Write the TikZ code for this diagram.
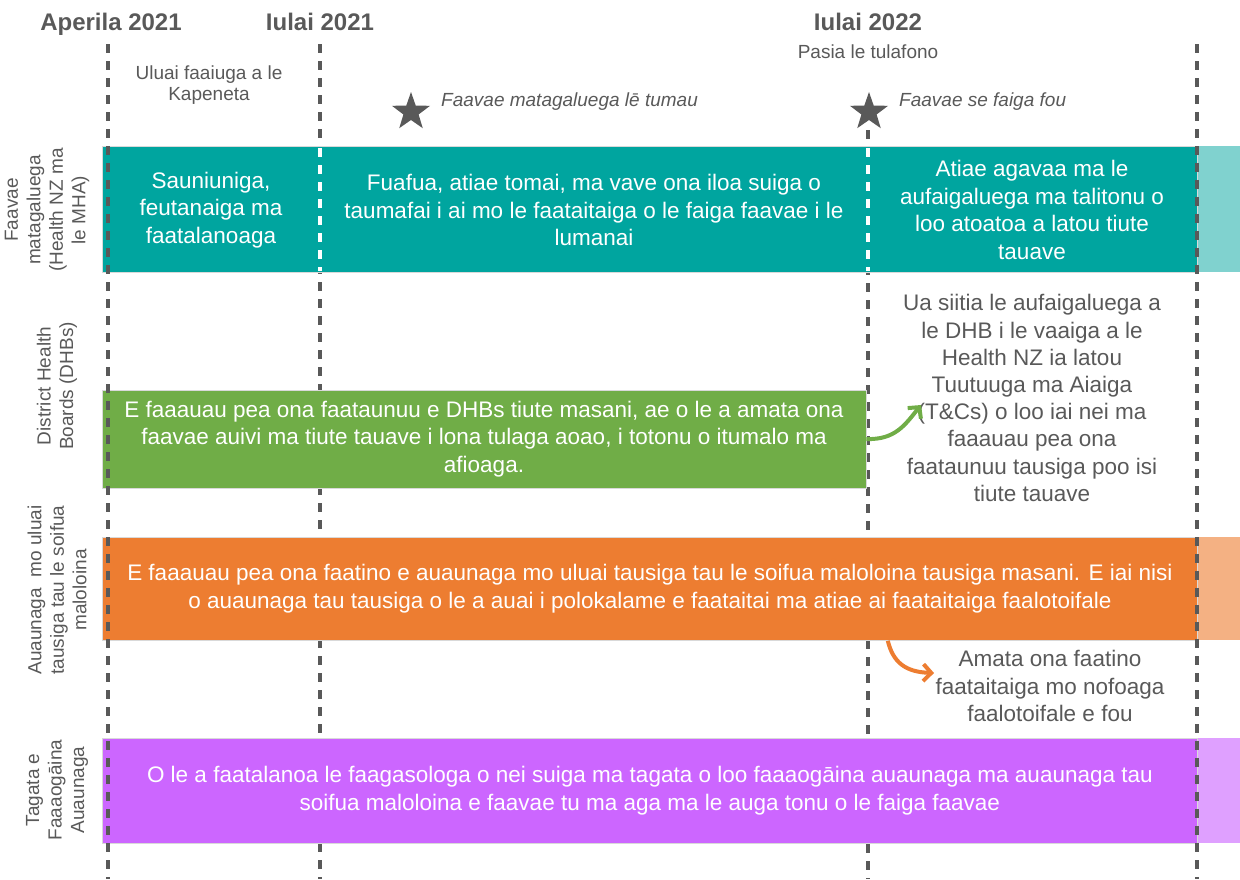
\documentclass[tikz,border=0pt]{standalone}
\usepackage{fontspec}
\setmainfont{Liberation Sans}
\usetikzlibrary{shapes.geometric,arrows.meta}
\definecolor{txtgray}{HTML}{595959}
\definecolor{tealbar}{HTML}{00A59F}
\definecolor{teallight}{HTML}{80D2CF}
\definecolor{greenbar}{HTML}{70AD47}
\definecolor{orangebar}{HTML}{ED7D31}
\definecolor{orangelight}{HTML}{F4B183}
\definecolor{purplebar}{HTML}{CC66FF}
\definecolor{purplelight}{HTML}{DFA0FF}
\begin{document}
\begin{tikzpicture}[x=1pt, y=-1pt,
    datehead/.style={text=txtgray, font=\bfseries\fontsize{24}{28}\selectfont, inner sep=0},
    remark/.style={text=txtgray, font=\fontsize{19}{21.5}\selectfont, align=center, inner sep=0},
    rowlabel/.style={text=txtgray, font=\fontsize{19}{22.5}\selectfont, align=center, rotate=90, inner sep=0},
    bartext/.style={text=white, font=\fontsize{22.5}{27.5}\selectfont, align=center, inner sep=0},
    sidetext/.style={text=txtgray, font=\fontsize{22.5}{27.2}\selectfont, align=center, inner sep=0},
    barbox/.style={draw=white!85!black, line width=0.8pt, inner sep=0, anchor=north west},
    gridline/.style={draw=txtgray, line width=3.5pt, dash pattern=on 9pt off 8pt},
    whitegrid/.style={draw=white, line width=3.5pt, dash pattern=on 9pt off 8pt},
    flow/.style={line width=4pt, -{Straight Barb[length=8pt, width=17pt]}},
    milestone/.style={star, star points=5, star point ratio=2.5, fill=txtgray, minimum size=40pt, inner sep=0}]
  \useasboundingbox (0,0) rectangle (1240,879);

  % dates across the top
  \node[datehead, anchor=base] (apr21) at (111,30) {Aperila 2021};
  \node[datehead, anchor=base] (jul21) at (320,30) {Iulai 2021};
  \node[datehead, anchor=base] (jul22) at (868,30) {Iulai 2022};

  \node[remark] (cabinet) at (209,85) {Uluai faaiuga a le\\Kapeneta};
  \node[remark] (passed) at (868,52) {Pasia le tulafono};

  \node[milestone] (star1) at (411,112) {};
  \node[milestone] (star2) at (869,112) {};
  \node[remark, anchor=west, font=\itshape\fontsize{19}{21.5}\selectfont] (interim) at (441,102) {Faavae matagaluega lē tumau};
  \node[remark, anchor=west, font=\itshape\fontsize{19}{21.5}\selectfont] (newsys) at (899,102) {Faavae se faiga fou};

  % grid lines that run behind the bars
  \draw[gridline] (320,44) -- (320,879);
  \draw[gridline] (868,130) -- (868,879);

  % bars
  \node[barbox, fill=tealbar, minimum width=1095pt, minimum height=126pt] (mhabar) at (102,146) {};
  \fill[teallight] (mhabar.north east) rectangle (1240,272);
  \draw[whitegrid] (320,148) -- (320,271);
  \draw[whitegrid] (868,148) -- (868,271);

  \node[barbox, fill=greenbar, minimum width=764pt, minimum height=98pt, anchor=center, bartext] (dhbbar) at (484,439)
    {E faaauau pea ona faataunuu e DHBs tiute masani, ae o le a amata ona\\faavae auivi ma tiute tauave i lona tulaga aoao, i totonu o itumalo ma\\afioaga.};

  \node[barbox, fill=orangebar, minimum width=1095pt, minimum height=103pt] (pcbar) at (102,537) {};
  \fill[orangelight] (pcbar.north east) rectangle (1240,640);
  \node[bartext] (pctext) at (pcbar.center)
    {E faaauau pea ona faatino e auaunaga mo uluai tausiga tau le soifua maloloina tausiga masani. E iai nisi\\o auaunaga tau tausiga o le a auai i polokalame e faataitai ma atiae ai faataitaiga faalotoifale};

  \node[barbox, fill=purplebar, minimum width=1095pt, minimum height=105pt] (userbar) at (102,738) {};
  \fill[purplelight] (userbar.north east) rectangle (1240,843);
  \node[bartext] (usertext) at (userbar.center)
    {O le a faatalanoa le faagasologa o nei suiga ma tagata o loo faaaogāina auaunaga ma auaunaga tau\\soifua maloloina e faavae tu ma aga ma le auga tonu o le faiga faavae};

  % grid lines drawn over the bars
  \draw[gridline] (108,44) -- (108,879);
  \draw[gridline] (1197,44) -- (1197,879);

  % texts in the teal bar
  \node[bartext] (prep) at (211,210) {Sauniuniga,\\feutanaiga ma\\faatalanoaga};
  \node[bartext] (plan) at (594,210) {Fuafua, atiae tomai, ma vave ona iloa suiga o\\taumafai i ai mo le faataitaiga o le faiga faavae i le\\lumanai};
  \node[bartext] (build) at (1032,210) {Atiae agavaa ma le\\aufaigaluega ma talitonu o\\loo atoatoa a latou tiute\\tauave};

  % texts beside the bars
  \node[sidetext] (transfer) at (1032,398) {Ua siitia le aufaigaluega a\\le DHB i le vaaiga a le\\Health NZ ia latou\\Tuutuuga ma Aiaiga\\(T\&Cs) o loo iai nei ma\\faaauau pea ona\\faataunuu tausiga poo isi\\tiute tauave};
  \node[sidetext] (localities) at (1050,686) {Amata ona faatino\\faataitaiga mo nofoaga\\faalotoifale e fou};

  % row labels
  \node[rowlabel] (mhalabel) at (47,210) {Faavae\\matagaluega\\(Health NZ ma\\le MHA)};
  \node[rowlabel] (dhblabel) at (57,386) {District Health\\Boards (DHBs)};
  \node[rowlabel] (pclabel) at (57,590) {Auaunaga~ mo uluai\\tausiga tau le soifua\\maloloina};
  \node[rowlabel] (userlabel) at (57,790) {Tagata e\\Faaaogāina\\Auaunaga};

  % arrows
  \coordinate (greentip) at (921,405);
  \coordinate (orangetip) at (934,673);
  \draw[flow, greenbar] (dhbbar.east) .. controls (895,440) and (905,425) .. (greentip);
  \draw[flow, orangebar] ([xshift=-310pt]pcbar.south east) .. controls (893,662) and (905,672) .. (orangetip);
\end{tikzpicture}
\end{document}
